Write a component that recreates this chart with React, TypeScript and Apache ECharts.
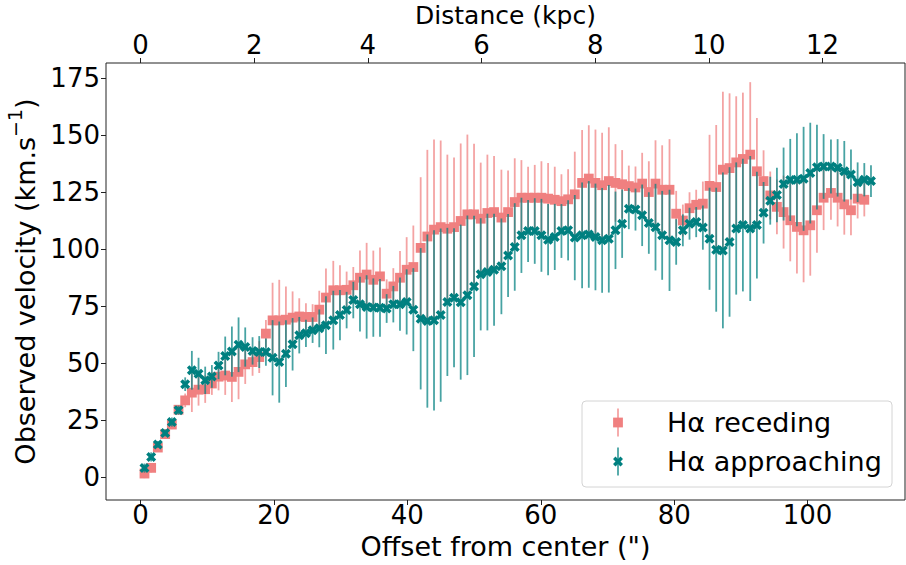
import React, { useEffect, useRef } from "react";
import * as echarts from "echarts";

// Offset positions (arcsec) of the slit samples
const offsets = [
  0.6, 1.6, 2.6, 3.7, 4.7, 5.7, 6.7, 7.7, 8.7, 9.7,
  10.7, 11.7, 12.7, 13.7, 14.7, 15.7, 16.8, 17.8, 18.8, 19.8,
  20.8, 21.8, 22.8, 23.8, 24.8, 25.8, 26.8, 27.8, 28.9, 29.9,
  30.9, 31.9, 32.9, 33.9, 34.9, 35.9, 36.9, 37.9, 38.9, 39.9,
  40.9, 42.0, 43.0, 44.0, 45.0, 46.0, 47.0, 48.0, 49.0, 50.0,
  51.0, 52.0, 53.0, 54.1, 55.1, 56.1, 57.1, 58.1, 59.1, 60.1,
  61.1, 62.1, 63.1, 64.1, 65.1, 66.2, 67.2, 68.2, 69.2, 70.2,
  71.2, 72.2, 73.2, 74.2, 75.2, 76.2, 77.2, 78.2, 79.3, 80.3,
  81.3, 82.3, 83.3, 84.3, 85.3, 86.3, 87.3, 88.3, 89.3, 90.3,
  91.4, 92.4, 93.4, 94.4, 95.4, 96.4, 97.4, 98.4, 99.4, 100.4,
  101.4, 102.4, 103.5, 104.5, 105.5, 106.5, 107.5, 108.5, 109.5,
];

// H-alpha receding side velocities (km/s)
const recedingVel = [
  1.5, 4, 12.9, 18.8, 23, 29.5, 33.6, 37, 38.3, 38.5,
  41, 44, 44.5, 43.9, 46.1, 49.4, 50.4, 52.6, 62.9, 68.7,
  68.7, 69, 69.9, 70.4, 70.2, 70.2, 73.4, 78.7, 81.9, 81.9,
  82.1, 84.1, 87.4, 88.8, 86.5, 88, 80.4, 83.6, 87.4, 90.9,
  92.1, 100.5, 105.5, 108.5, 109.6, 108.9, 109.6, 112.3, 115.2, 115.2,
  113.3, 115.8, 116.2, 113.8, 116.2, 120.6, 122.5, 122.5, 122.5, 122.5,
  122.1, 121.6, 121, 121.8, 124, 129, 130.9, 129, 128, 129.8,
  129, 128.4, 127.6, 127, 128.7, 125, 128.7, 126, 126, 115.5,
  112.5, 117.9, 119.4, 119.9, 127.7, 127.2, 134.8, 135.5, 138, 139.5,
  141.4, 134.1, 129.8, 123.5, 118.5, 116.2, 112.6, 109.7, 108.2, 110.4,
  117, 122.5, 124.6, 122.5, 119.6, 117, 122.1, 121.6,
];

// H-alpha approaching side velocities (km/s)
const approachingVel = [
  3.9, 8.8, 14.3, 19.3, 24.1, 29.3, 40.7, 46.8, 45.3, 42.4,
  44.1, 48.9, 53.1, 55, 58, 57, 55.3, 54.8, 54.8, 52.3,
  50.4, 54.1, 58.2, 62.2, 63, 64.4, 65.2, 66.6, 68.8, 71,
  73.2, 77.6, 75.8, 74.6, 74.3, 74.2, 73.9, 75.8, 75.8, 76.8,
  73.4, 69.4, 68.4, 68.7, 71, 76.8, 78.6, 76.7, 79.7, 83.6,
  88.9, 89.9, 90.9, 92.4, 97.2, 100.9, 106, 107.9, 107.9, 106,
  104.1, 105.3, 107.9, 108.2, 105, 106, 106.4, 105.3, 103.8, 104.5,
  108.2, 111.1, 117.7, 117.3, 114.8, 111.4, 109.6, 106, 103.8, 103.1,
  108.2, 111.1, 111.8, 109.4, 104.5, 99.7, 99.4, 103.1, 109, 110.5,
  109, 110.5, 115.9, 121.2, 123.7, 128.5, 130.3, 130.4, 130.8, 133.3,
  135.9, 136.2, 136.2, 135.6, 134.1, 132.7, 129.3, 130.4, 129.8,
];

// Velocity uncertainties (km/s), shared by both sides
const velErr = [
  2, 2, 1.5, 1.5, 2, 2, 3, 8.5, 7, 6,
  5, 6, 8.5, 11, 12, 8.6, 6, 7, 6, 16.5,
  17.8, 14.6, 11.5, 8, 6, 5.6, 8.3, 12.7, 12.9, 11,
  8, 8, 12, 13.9, 12.8, 12.7, 6.3, 8, 11.7, 14.3,
  18.2, 31, 38, 39.5, 38, 32.5, 30.5, 34, 35, 31,
  24.6, 25.6, 24.6, 21, 18.2, 19.2, 16.5, 13.6, 14.4, 16,
  15.6, 14.5, 11.8, 13.2, 18.7, 23.2, 23.4, 23.4, 23, 23.6,
  17, 15, 9, 9.2, 13.5, 13.5, 19, 19.5, 22.2, 10,
  7, 7, 6.6, 9.7, 22.4, 27.2, 34.2, 32.8, 29, 29.1,
  31.8, 23.4, 13.5, 10.5, 12, 16, 18, 20.4, 22.8, 22.1,
  18.6, 14.2, 11.8, 12.6, 13.3, 11, 8.7, 7.3, 7,
];

const bottomTicks = [0, 20, 40, 60, 80, 100];
const topTicks = [0, 2, 4, 6, 8, 10, 12];
const yTicks = [0, 25, 50, 75, 100, 125, 150, 175];

const RED = "#F08080";
const RED_BAR = "rgba(240,128,128,0.72)";
const TEAL = "#008080";
const TEAL_BAR = "rgba(0,128,128,0.72)";
const FONT = "DejaVu Sans";
const X_SYMBOL =
  "path://M2.5,0L5,2.5L7.5,0L10,2.5L7.5,5L10,7.5L7.5,10L5,7.5L2.5,10L0,7.5L2.5,5L0,2.5Z";

export default function App() {
  const ref = useRef<HTMLDivElement>(null);

  useEffect(() => {
    if (!ref.current) return;
    const chart = echarts.init(ref.current, null, { renderer: "svg" });

    const recData = recedingVel.map((v, i) => [offsets[i], v, velErr[i]]);
    const appData = approachingVel.map((v, i) => [offsets[i], v, velErr[i]]);

    const errItem = (color: string) => (params: any, api: any) => {
      const x = api.value(0);
      const y = api.value(1);
      const e = api.value(2);
      const a = api.coord([x, y - e]);
      const b = api.coord([x, y + e]);
      return {
        type: "line",
        shape: { x1: a[0], y1: a[1], x2: b[0], y2: b[1] },
        style: { stroke: color, lineWidth: 1.8 },
      };
    };

    const tickStyle = { show: true, length: 5, inside: false, lineStyle: { color: "#222", width: 1 } };
    const labelStyle = { fontSize: 26, color: "#000", fontFamily: FONT };
    const titleStyle = { fontSize: 27, color: "#000", fontFamily: FONT };

    // legend geometry
    const lx = 618;
    const r1 = 422.5;
    const r2 = 461.5;
    const m = 4.9;

    chart.setOption({
      animation: false,
      backgroundColor: "#fff",
      grid: {
        left: 106,
        right: 1,
        top: 63,
        bottom: 65,
        outerBoundsMode: "none",
        containLabel: false,
        show: true,
        borderColor: "#222",
        borderWidth: 1,
        backgroundColor: "transparent",
      },
      xAxis: [
        {
          type: "value",
          position: "bottom",
          min: -5.17,
          max: 114.6,
          axisLine: { show: false, onZero: false },
          axisTick: { ...tickStyle, customValues: bottomTicks },
          axisLabel: { ...labelStyle, margin: 2, customValues: bottomTicks },
          splitLine: { show: false },
          name: 'Offset from center (")',
          nameLocation: "middle",
          nameGap: 32,
          nameTextStyle: titleStyle,
        },
        {
          type: "value",
          position: "top",
          min: -0.607,
          max: 13.45,
          axisLine: { show: false, onZero: false },
          axisTick: { ...tickStyle, customValues: topTicks },
          axisLabel: { ...labelStyle, lineHeight: 26, margin: 5, customValues: topTicks },
          splitLine: { show: false },
          name: "Distance (kpc)",
          nameLocation: "middle",
          nameGap: 34,
          nameMoveOverlap: false,
          nameTextStyle: { fontSize: 25, color: "#000", fontFamily: FONT, lineHeight: 28 },
        },
      ],
      yAxis: {
        type: "value",
        min: -10.1,
        max: 181.6,
        axisLine: { show: false, onZero: false },
        axisTick: { ...tickStyle, customValues: yTicks },
        axisLabel: { ...labelStyle, margin: 6, customValues: yTicks },
        splitLine: { show: false },
        name: "{t|Observed velocity (km.s}{s|−1}{t|)}",
        nameLocation: "middle",
        nameRotate: 90,
        nameGap: 60,
        nameTextStyle: {
          color: "#000",
          fontFamily: FONT,
          rich: {
            t: { fontSize: 27, fontFamily: FONT, color: "#000", lineHeight: 34, verticalAlign: "bottom" },
            s: { fontSize: 19, fontFamily: FONT, color: "#000", lineHeight: 34, verticalAlign: "top" },
          },
        },
      },
      series: [
        {
          type: "custom",
          name: "Hα receding bars",
          renderItem: errItem(RED_BAR),
          data: recData,
          encode: { x: 0, y: 1 },
          clip: true,
          z: 2,
        },
        {
          type: "scatter",
          name: "Hα receding",
          data: recData.map((d) => [d[0], d[1]]),
          symbol: "rect",
          symbolSize: 9.8,
          itemStyle: { color: RED, opacity: 1 },
          z: 3,
        },
        {
          type: "custom",
          name: "Hα approaching bars",
          renderItem: errItem(TEAL_BAR),
          data: appData,
          encode: { x: 0, y: 1 },
          clip: true,
          z: 4,
        },
        {
          type: "scatter",
          name: "Hα approaching",
          data: appData.map((d) => [d[0], d[1]]),
          symbol: X_SYMBOL,
          symbolSize: 10,
          itemStyle: { color: TEAL, opacity: 1 },
          z: 5,
        },
      ],
      graphic: [
        {
          type: "rect",
          z: 100,
          shape: { x: 582, y: 401, width: 310, height: 86, r: 4 },
          style: { fill: "rgba(255,255,255,0.85)", stroke: "#d4d4d4", lineWidth: 1 },
        },
        {
          type: "line",
          z: 101,
          shape: { x1: lx, y1: r1 - 14, x2: lx, y2: r1 + 14 },
          style: { stroke: RED_BAR, lineWidth: 1.8 },
        },
        {
          type: "rect",
          z: 102,
          shape: { x: lx - m, y: r1 - m, width: 2 * m, height: 2 * m },
          style: { fill: RED },
        },
        {
          type: "line",
          z: 101,
          shape: { x1: lx, y1: r2 - 14, x2: lx, y2: r2 + 14 },
          style: { stroke: TEAL_BAR, lineWidth: 1.8 },
        },
        {
          type: "polygon",
          z: 102,
          shape: {
            points: [
              [lx - 2.5, r2 - 5], [lx, r2 - 2.5], [lx + 2.5, r2 - 5], [lx + 5, r2 - 2.5],
              [lx + 2.5, r2], [lx + 5, r2 + 2.5], [lx + 2.5, r2 + 5], [lx, r2 + 2.5],
              [lx - 2.5, r2 + 5], [lx - 5, r2 + 2.5], [lx - 2.5, r2], [lx - 5, r2 - 2.5],
            ],
          },
          style: { fill: TEAL },
        },
        {
          type: "text",
          z: 103,
          x: 667,
          y: r1,
          style: {
            text: "Hα receding",
            fontSize: 27,
            fontFamily: FONT,
            fill: "#000",
            verticalAlign: "middle",
            align: "left",
          },
        },
        {
          type: "text",
          z: 103,
          x: 667,
          y: r2,
          style: {
            text: "Hα approaching",
            fontSize: 27,
            fontFamily: FONT,
            fill: "#000",
            verticalAlign: "middle",
            align: "left",
          },
        },
      ],
    });

    return () => chart.dispose();
  }, []);

  return (
    <div
      ref={ref}
      style={{ position: "fixed", left: 0, top: 0, width: 906, height: 565, background: "#fff" }}
    />
  );
}
